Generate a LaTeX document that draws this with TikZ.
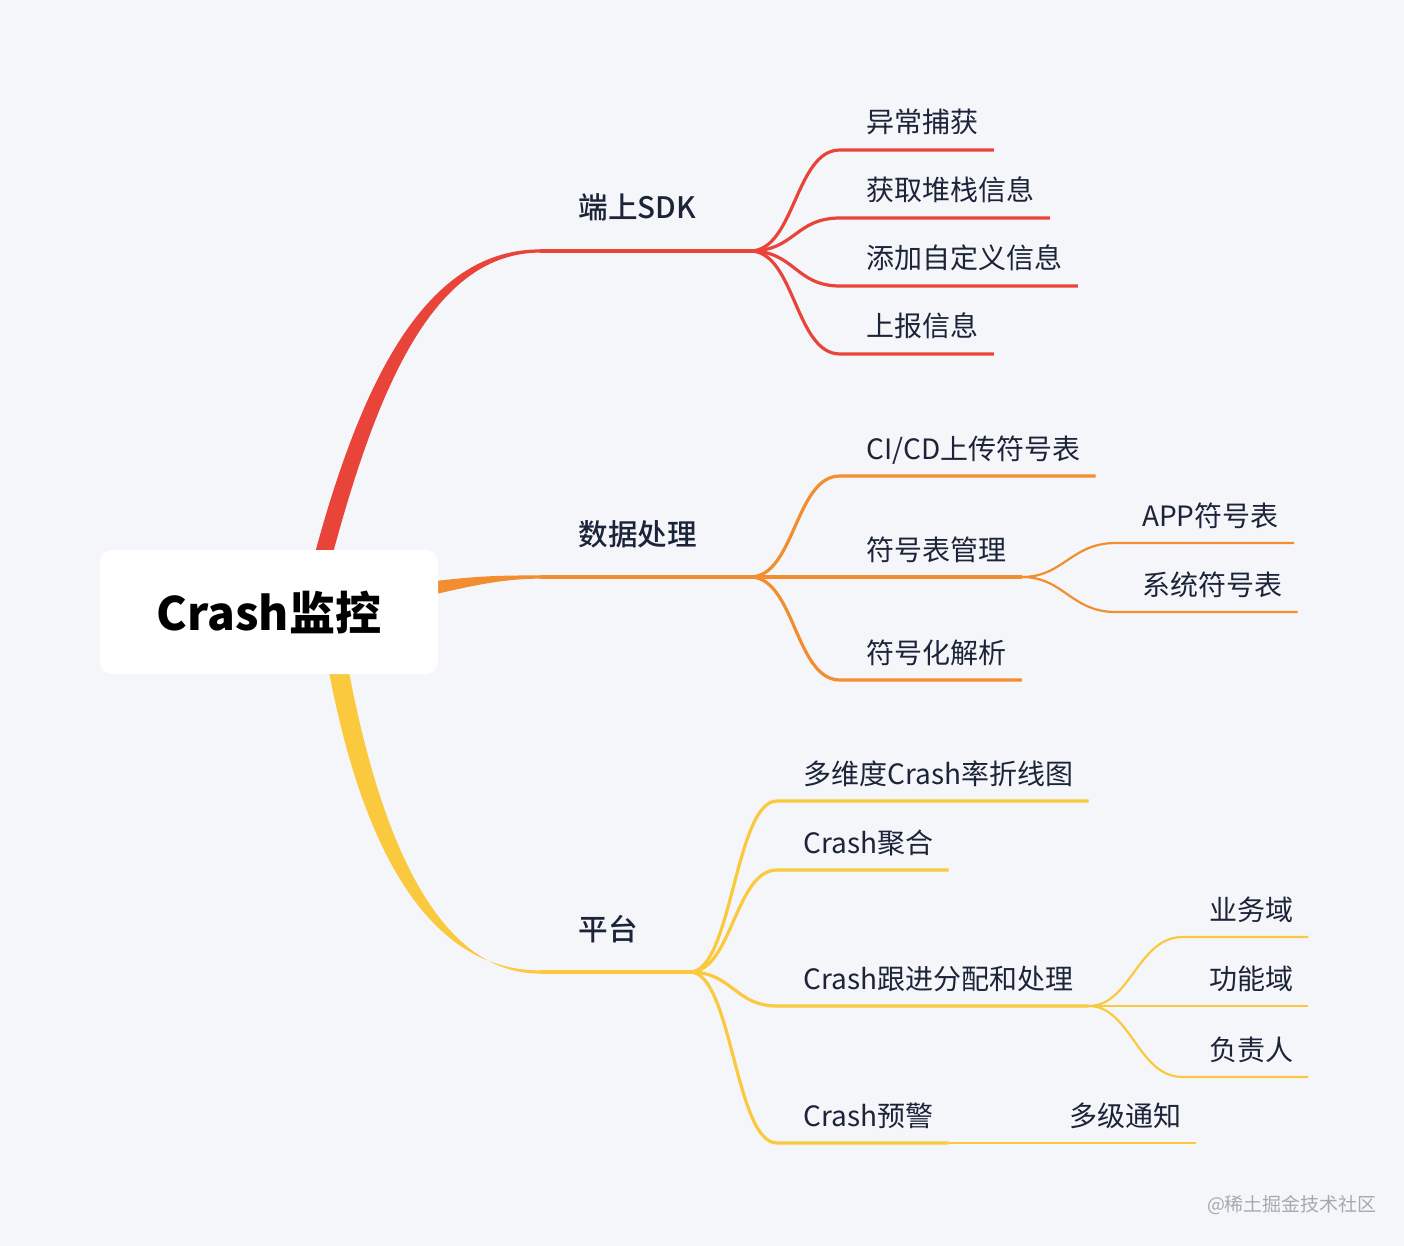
\documentclass[tikz,border=0pt]{standalone}
\usepackage{fontspec}
\setmainfont{Noto Sans CJK SC}
\newfontfamily\medfont{Noto Sans CJK SC Medium}
\usepackage{tikz}
\usetikzlibrary{calc,positioning}
\definecolor{bgc}{RGB}{245,246,250}
\definecolor{mmred}{RGB}{233,68,58}
\definecolor{mmorange}{RGB}{242,141,48}
\definecolor{mmyellow}{RGB}{250,201,62}
\definecolor{ink}{RGB}{27,36,56}
\definecolor{markgray}{RGB}{168,168,175}

\tikzset{
  rootbox/.style={fill=white, rounded corners=6pt, minimum width=169pt, minimum height=62pt,
    inner sep=0pt, text=black, font=\fontsize{23}{27}\selectfont\bfseries},
  topic/.style={anchor=base west, inner sep=0pt, text=ink, font=\fontsize{14.8}{17}\selectfont\medfont},
  leaf/.style={anchor=base west, inner sep=0pt, text=ink, font=\fontsize{14}{17}\selectfont},
  sub1/.style={line width=1.6pt},
  sub2/.style={line width=1.1pt},
}

\begin{document}
\begin{tikzpicture}[x=0.5pt, y=-0.5pt]
\fill[bgc] (0,0) rectangle (1404,1246);
\useasboundingbox (0,0) rectangle (1404,1246);

\path
  (540,251) coordinate (sdk)
  (750,251) coordinate (sdkf)
  (540,577) coordinate (data)
  (750,577) coordinate (dataf)
  (540,972) coordinate (plat)
  (690,972) coordinate (platf)
  ;

% main branches, thick at the root
\fill[mmred] (315,553) .. controls (366,365) and (432,249.5) .. ($(sdk)+(0,-1.6)$)
  -- ($(sdk)+(0,1.6)$) .. controls (438,253) and (381,375) .. (333,553) -- cycle;
\fill[mmorange] (436,581) .. controls (478,576) and (500,575.4) .. ($(data)+(0,-1.6)$)
  -- ($(data)+(0,1.6)$) .. controls (502,579) and (476,585) .. (436,594) -- cycle;
\fill[mmyellow] (329,672) .. controls (366,865) and (436,970.4) .. ($(plat)+(0,-1.6)$)
  -- ($(plat)+(0,1.6)$) .. controls (444,973.6) and (384,855) .. (349,672) -- cycle;

\node[rootbox] (root) at (269,612) {Crash监控};

\draw[sub1, mmred] (sdk) -- (sdkf);
\draw[sub1, mmorange] (data) -- (dataf);
\draw[sub1, mmyellow] (plat) -- (platf);

\node[topic] (t1) at ($(sdk)+(38,-32)$) {端上SDK};
\node[topic] (t2) at ($(data)+(38,-32)$) {数据处理};
\node[topic] (t3) at ($(plat)+(38,-32)$) {平台};

% 端上SDK
\path
  (840,150) coordinate (l1)
  (840,218) coordinate (l2)
  (840,286) coordinate (l3)
  (840,354) coordinate (l4)
  ;
\node[leaf] (a1) at ($(l1)+(26,-17)$) {异常捕获};
\node[leaf] (a2) at ($(l2)+(26,-17)$) {获取堆栈信息};
\node[leaf] (a3) at ($(l3)+(26,-17)$) {添加自定义信息};
\node[leaf] (a4) at ($(l4)+(26,-17)$) {上报信息};
\draw[sub1, mmred] (sdkf) .. controls +(45,0) and +(-45,0) .. (l1) -- ($(l1 -| a1.east)+(15,0)$);
\draw[sub1, mmred] (sdkf) .. controls +(45,0) and +(-45,0) .. (l2) -- ($(l2 -| a2.east)+(15,0)$);
\draw[sub1, mmred] (sdkf) .. controls +(45,0) and +(-45,0) .. (l3) -- ($(l3 -| a3.east)+(15,0)$);
\draw[sub1, mmred] (sdkf) .. controls +(45,0) and +(-45,0) .. (l4) -- ($(l4 -| a4.east)+(15,0)$);

% 数据处理
\path
  (840,476) coordinate (l5)
  (840,577) coordinate (l6)
  (840,680) coordinate (l7)
  ;
\node[leaf] (b1) at ($(l5)+(26,-17)$) {CI/CD上传符号表};
\node[leaf] (b2) at ($(l6)+(26,-17)$) {符号表管理};
\node[leaf] (b3) at ($(l7)+(26,-17)$) {符号化解析};
\draw[sub1, mmorange] (dataf) .. controls +(45,0) and +(-45,0) .. (l5) -- ($(l5 -| b1.east)+(15,0)$);
\draw[sub1, mmorange] (dataf) -- (l6) -- ($(l6 -| b2.east)+(15,0)$) coordinate (b2f);
\draw[sub1, mmorange] (dataf) .. controls +(45,0) and +(-45,0) .. (l7) -- ($(l7 -| b3.east)+(15,0)$);

\path
  ($(b2f)+(94,-34)$) coordinate (l8)
  ($(b2f)+(94,35)$) coordinate (l9)
  ;
\node[leaf] (c1) at ($(l8)+(26,-17)$) {APP符号表};
\node[leaf] (c2) at ($(l9)+(26,-17)$) {系统符号表};
\draw[sub2, mmorange] (b2f) .. controls +(42,0) and +(-45,0) .. (l8) -- ($(l8 -| c1.east)+(15,0)$);
\draw[sub2, mmorange] (b2f) .. controls +(42,0) and +(-45,0) .. (l9) -- ($(l9 -| c2.east)+(15,0)$);

% 平台
\path
  (777,801) coordinate (m1)
  (777,870) coordinate (m2)
  (777,1006) coordinate (m3)
  (777,1143) coordinate (m4)
  ;
\node[leaf] (d1) at ($(m1)+(26,-17)$) {多维度Crash率折线图};
\node[leaf] (d2) at ($(m2)+(26,-17)$) {Crash聚合};
\node[leaf] (d3) at ($(m3)+(26,-17)$) {Crash跟进分配和处理};
\node[leaf] (d4) at ($(m4)+(26,-17)$) {Crash预警};
\draw[sub1, mmyellow] (platf) .. controls +(42,0) and +(-42,0) .. (m1) -- ($(m1 -| d1.east)+(15,0)$);
\draw[sub1, mmyellow] (platf) .. controls +(42,0) and +(-42,0) .. (m2) -- ($(m2 -| d2.east)+(15,0)$);
\draw[sub1, mmyellow] (platf) .. controls +(42,0) and +(-42,0) .. (m3) -- ($(m3 -| d3.east)+(15,0)$) coordinate (d3f);
\draw[sub1, mmyellow] (platf) .. controls +(42,0) and +(-42,0) .. (m4) -- ($(m4 -| d4.east)+(15,0)$) coordinate (d4f);

\path
  ($(d3f)+(94,-69)$) coordinate (m5)
  ($(d3f)+(94,0)$) coordinate (m6)
  ($(d3f)+(94,71)$) coordinate (m7)
  ;
\node[leaf] (e1) at ($(m5)+(26,-17)$) {业务域};
\node[leaf] (e2) at ($(m6)+(26,-17)$) {功能域};
\node[leaf] (e3) at ($(m7)+(26,-17)$) {负责人};
\draw[sub2, mmyellow] (d3f) .. controls +(42,0) and +(-45,0) .. (m5) -- ($(m5 -| e1.east)+(15,0)$);
\draw[sub2, mmyellow] (d3f) -- (m6) -- ($(m6 -| e2.east)+(15,0)$);
\draw[sub2, mmyellow] (d3f) .. controls +(42,0) and +(-45,0) .. (m7) -- ($(m7 -| e3.east)+(15,0)$);

\node[leaf] (e4) at ($(d4f)+(120,-17)$) {多级通知};
\draw[sub2, mmyellow] (d4f) -- ($(d4f -| e4.east)+(15,0)$);

\node[text=markgray, font=\fontsize{9.5}{11}\selectfont] (wm) at (1292,1205) {@稀土掘金技术社区};
\end{tikzpicture}
\end{document}
